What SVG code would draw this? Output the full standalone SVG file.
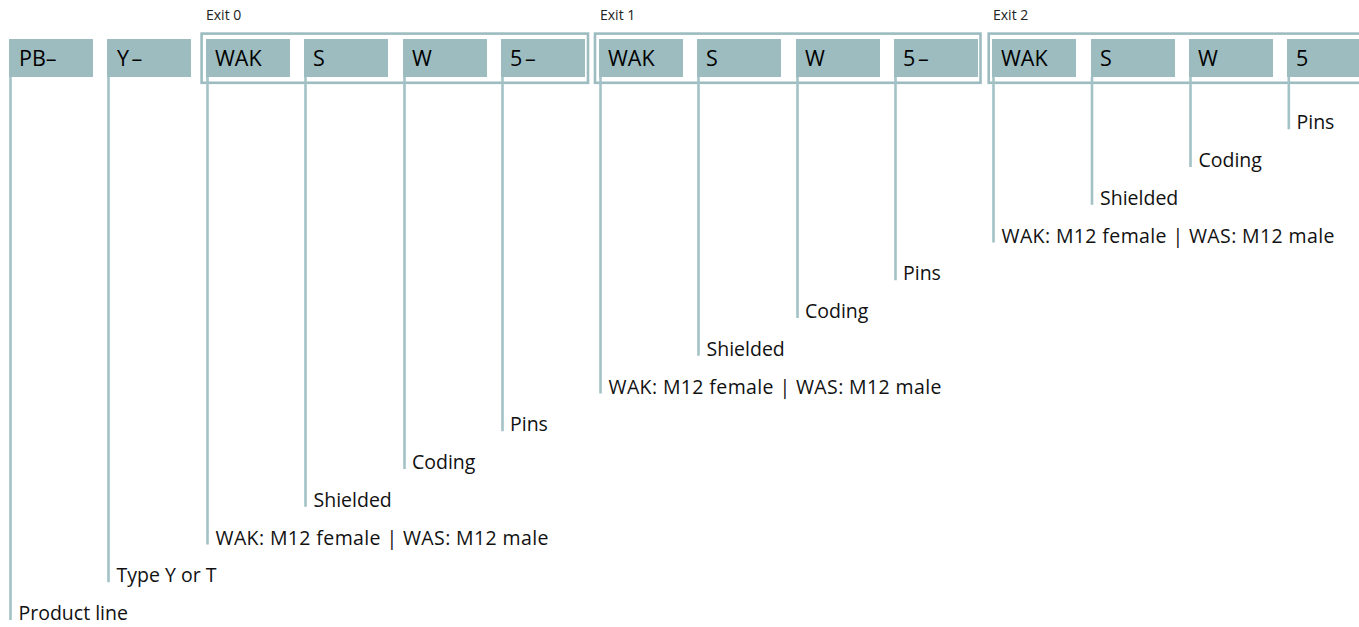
<svg xmlns="http://www.w3.org/2000/svg" width="1359" height="627" viewBox="0 0 1359 627">
<style>
.box{fill:#9cbcc0}
.frame{fill:none;stroke:#9cbcc0;stroke-width:2.6}
.ln{stroke:#a2c2c6;stroke-width:2.6;fill:none}
.bt{font-family:"Open Sans","Noto Sans",sans-serif;font-size:21.5px;fill:#000}
.ws{word-spacing:-3px}
.lt{font-family:"Open Sans","Noto Sans",sans-serif;font-size:19.5px;fill:#111}
.et{font-family:"Open Sans","Noto Sans",sans-serif;font-size:14px;fill:#222}
</style>
<rect width="1359" height="627" fill="#fff"/>
<g id="frames">
<rect class="frame" x="201.6" y="33.6" width="386.4" height="49.2"/>
<text class="et" x="206" y="19.5">Exit 0</text>
<rect class="frame" x="595" y="33.6" width="385.5" height="49.2"/>
<text class="et" x="600" y="19.5">Exit 1</text>
<rect class="frame" x="988.7" y="33.6" width="390" height="49.2"/>
<text class="et" x="993" y="19.5">Exit 2</text>
</g>
<g id="connectors">
<path class="ln" d="M10.5 77V620"/>
<path class="ln" d="M108.5 77V582.25"/>
<path class="ln" d="M207.5 77V544.5"/>
<path class="ln" d="M305.5 77V506.75"/>
<path class="ln" d="M404.5 77V469"/>
<path class="ln" d="M502.5 77V431.25"/>
<path class="ln" d="M600.5 77V393.5"/>
<path class="ln" d="M698.5 77V355.75"/>
<path class="ln" d="M797.5 77V318"/>
<path class="ln" d="M895.5 77V280.25"/>
<path class="ln" d="M993.5 77V242.5"/>
<path class="ln" d="M1092 77V204.75"/>
<path class="ln" d="M1190.5 77V167"/>
<path class="ln" d="M1288.8 77V129.25"/>
</g>
<g id="n-pb"><rect class="box" x="9" y="39" width="84" height="38"/><text class="bt" x="19" y="66">PB–</text></g>
<g id="n-y"><rect class="box" x="107" y="39" width="84" height="38"/><text class="bt ws" x="117" y="66">Y –</text></g>
<g id="n-wak0"><rect class="box" x="206" y="39" width="84" height="38"/><text class="bt" x="215" y="66">WAK</text></g>
<g id="n-s0"><rect class="box" x="304" y="39" width="84" height="38"/><text class="bt" x="313" y="66">S</text></g>
<g id="n-w0"><rect class="box" x="403" y="39" width="84" height="38"/><text class="bt" x="412" y="66">W</text></g>
<g id="n-50"><rect class="box" x="501" y="39" width="84" height="38"/><text class="bt ws" x="510" y="66">5 –</text></g>
<g id="n-wak1"><rect class="box" x="599" y="39" width="84" height="38"/><text class="bt" x="608" y="66">WAK</text></g>
<g id="n-s1"><rect class="box" x="697" y="39" width="84" height="38"/><text class="bt" x="706" y="66">S</text></g>
<g id="n-w1"><rect class="box" x="796" y="39" width="84" height="38"/><text class="bt" x="805" y="66">W</text></g>
<g id="n-51"><rect class="box" x="894" y="39" width="84" height="38"/><text class="bt ws" x="903" y="66">5 –</text></g>
<g id="n-wak2"><rect class="box" x="992" y="39" width="84" height="38"/><text class="bt" x="1001" y="66">WAK</text></g>
<g id="n-s2"><rect class="box" x="1091" y="39" width="84" height="38"/><text class="bt" x="1100" y="66">S</text></g>
<g id="n-w2"><rect class="box" x="1189" y="39" width="84" height="38"/><text class="bt" x="1198" y="66">W</text></g>
<g id="n-52"><rect class="box" x="1287" y="39" width="84" height="38"/><text class="bt" x="1296" y="66">5</text></g>
<g id="labels">
<text class="lt" x="18.5" y="620">Product line</text>
<text class="lt" x="116.5" y="582.25">Type Y or T</text>
<text class="lt" x="215.5" y="544.5" textLength="333">WAK: M12 female | WAS: M12 male</text>
<text class="lt" x="313.5" y="506.75">Shielded</text>
<text class="lt" x="412" y="469">Coding</text>
<text class="lt" x="510" y="431.25">Pins</text>
<text class="lt" x="608.5" y="393.5" textLength="333">WAK: M12 female | WAS: M12 male</text>
<text class="lt" x="706.5" y="355.75">Shielded</text>
<text class="lt" x="805" y="318">Coding</text>
<text class="lt" x="903" y="280.25">Pins</text>
<text class="lt" x="1001.5" y="242.5" textLength="333">WAK: M12 female | WAS: M12 male</text>
<text class="lt" x="1100" y="204.75">Shielded</text>
<text class="lt" x="1198.5" y="167">Coding</text>
<text class="lt" x="1296.5" y="129.25">Pins</text>
</g>
</svg>
